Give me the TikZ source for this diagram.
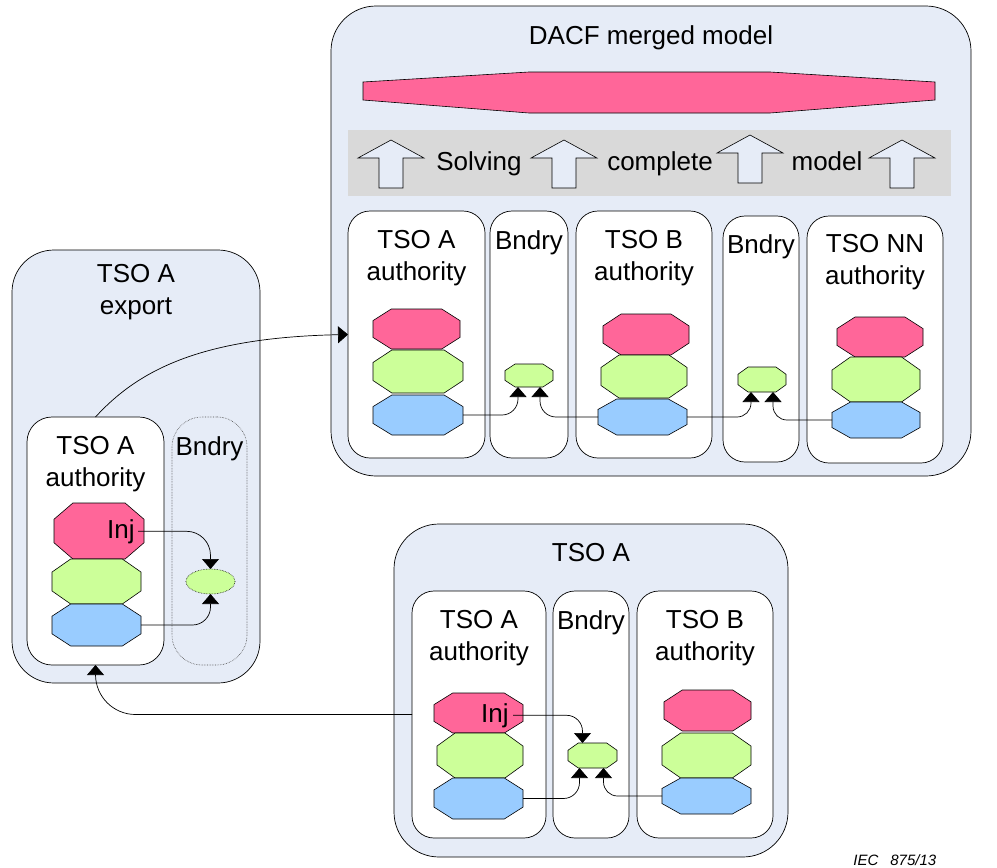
\documentclass[tikz,border=0pt]{standalone}
\usepackage{fontspec}
\setmainfont{Liberation Sans}
\usetikzlibrary{arrows.meta, shapes.geometric}

\definecolor{paneblue}{RGB}{230,236,247}
\definecolor{bandgray}{RGB}{217,217,217}
\definecolor{octpink}{RGB}{255,102,153}
\definecolor{octgreen}{RGB}{204,255,153}
\definecolor{octblue}{RGB}{153,204,255}

% octagon: name, x, y, width, height, colour
\newcommand{\octnode}[6]{%
  \node[inner sep=0pt, outer sep=0pt, minimum width=#4pt, minimum height=#5pt] (#1) at (#2,#3) {};
  \filldraw[fill=#6, line width=0.6pt] (#2-0.29*#4,#3-0.5*#5) -- (#2+0.29*#4,#3-0.5*#5) -- (#2+0.5*#4,#3-0.21*#5) -- (#2+0.5*#4,#3+0.21*#5) -- (#2+0.29*#4,#3+0.5*#5) -- (#2-0.29*#4,#3+0.5*#5) -- (#2-0.5*#4,#3+0.21*#5) -- (#2-0.5*#4,#3-0.21*#5) -- cycle;}

% block arrow pointing up: x, tip y
\newcommand{\blockup}[2]{%
  \filldraw[fill=paneblue, line width=0.6pt] (#1,#2) -- (#1+33,#2+18) -- (#1+12,#2+18) -- (#1+12,#2+48) -- (#1-12,#2+48) -- (#1-12,#2+18) -- (#1-33,#2+18) -- cycle;}

\begin{document}
\begin{tikzpicture}[x=1pt, y=-1pt, line width=0.7pt, line join=miter,
  font=\fontsize{26}{31.5}\selectfont,
  >={Triangle[width=17pt, length=10pt]},
  pane/.style={draw, fill=paneblue, rounded corners=45pt, outer sep=0pt, inner sep=0pt},
  part/.style={draw, fill=white, rounded corners=22pt, outer sep=0pt, inner sep=0pt},
  ttl/.style={anchor=north, inner sep=0pt, yshift=-19pt, align=center}]
	\useasboundingbox (0,0) rectangle (997,868);

	% DACF merged model
	\node[pane, minimum width=640pt, minimum height=470pt] (dacf) at (651,241) {};
	\node[ttl] at (dacf.north) {DACF merged model};
	\filldraw[fill=octpink, line width=0.6pt] (363,82) -- (529,72) -- (770,72) -- (935,82) -- (935,100) -- (770,113) -- (529,113) -- (363,100) -- cycle;
	\fill[bandgray] (348,130) rectangle (951,196);
	\blockup{391}{140}
	\blockup{564}{140}
	\blockup{750}{135}
	\blockup{902}{140}
	\node[anchor=base] at (479,170) {Solving};
	\node[anchor=base] at (660,170) {complete};
	\node[anchor=base] at (827,170) {model};

	\node[part, minimum width=137pt, minimum height=247pt] (dAbox) at (416.5,334.5) {};
	\node[part, minimum width=78pt, minimum height=247pt] (dBnd1) at (529,334.5) {};
	\node[part, minimum width=136pt, minimum height=247pt] (dBbox) at (644,334.5) {};
	\node[part, minimum width=76pt, minimum height=246pt] (dBnd2) at (761,339) {};
	\node[part, minimum width=136pt, minimum height=247pt] (dNNbox) at (875,339.5) {};
	\node[ttl] at (dAbox.north) {TSO A\\authority};
	\node[ttl] at (dBnd1.north) {Bndry};
	\node[ttl] at (dBbox.north) {TSO B\\authority};
	\node[ttl, yshift=1pt] at (dBnd2.north) {Bndry};
	\node[ttl, yshift=1pt] at (dNNbox.north) {TSO NN\\authority};

	\octnode{dAp}{416.5}{329}{87}{40}{octpink}
	\octnode{dAg}{418}{371.5}{90}{43}{octgreen}
	\octnode{dAb}{418}{415}{90}{40}{octblue}
	\octnode{bndA}{529}{375.5}{48}{23}{octgreen}
	\octnode{dBp}{646}{334.5}{86}{41}{octpink}
	\octnode{dBg}{644}{376.5}{86}{43}{octgreen}
	\octnode{dBb}{642.5}{417}{89}{36}{octblue}
	\octnode{bndB}{762}{379.5}{48}{25}{octgreen}
	\octnode{dNp}{880}{337}{86}{40}{octpink}
	\octnode{dNg}{876}{379.5}{88}{45}{octgreen}
	\octnode{dNb}{876}{420}{88}{36}{octblue}
	\draw[->, rounded corners=16pt] (dAb.east) -| ([xshift=-11pt]bndA.south);
	\draw[->, rounded corners=16pt] (dBb.west) -| ([xshift=11pt]bndA.south);
	\draw[->, rounded corners=14pt] (dBb.east) -| ([xshift=-11pt]bndB.south);
	\draw[->, rounded corners=14pt] (dNb.west) -| ([xshift=11pt]bndB.south);

	% TSO A export
	\node[pane, rounded corners=42pt, minimum width=248pt, minimum height=433pt] (expo) at (136,466.5) {};
	\node[anchor=north, inner sep=0pt, align=center, yshift=-14pt] at (expo.north) {TSO A\\export};
	\node[part, rounded corners=25pt, minimum width=137pt, minimum height=248pt] (exAuth) at (95.5,541) {};
	\node[draw=black!70, densely dotted, line width=0.6pt, fill=paneblue, rounded corners=30pt, minimum width=75pt, minimum height=248pt, outer sep=0pt] (exBnd) at (209.5,541) {};
	\node[ttl] at (exAuth.north) {TSO A\\authority};
	\node[ttl] at (exBnd.north) {Bndry};
	\octnode{exp}{99}{531}{90}{56}{octpink}
	\octnode{exg}{96.5}{581.5}{89}{45}{octgreen}
	\octnode{exb}{96.5}{625}{89}{42}{octblue}
	\node[ellipse, draw, densely dotted, line width=0.6pt, fill=octgreen, minimum width=49pt, minimum height=25pt, inner sep=0pt, outer sep=0pt] (exEll) at (210.5,581.5) {};
	\node[anchor=base east, inner xsep=3pt, inner ysep=0pt] (injL) at (138,538) {Inj};
	\draw[->, rounded corners=24pt] (injL.east) -| (exEll.north);
	\draw[->, rounded corners=18pt] (exb.east) -| (exEll.south);

	% TSO A
	\node[pane, minimum width=394pt, minimum height=333pt] (tsoa) at (591,690.5) {};
	\node[ttl] at (tsoa.north) {TSO A};
	\node[part, minimum width=134pt, minimum height=247pt] (loAuth) at (479,714.5) {};
	\node[part, minimum width=76pt, minimum height=247pt] (loBnd) at (591,714.5) {};
	\node[part, minimum width=136pt, minimum height=247pt] (loB) at (705,714.5) {};
	\node[ttl] at (loAuth.north) {TSO A\\authority};
	\node[ttl] at (loBnd.north) {Bndry};
	\node[ttl] at (loB.north) {TSO B\\authority};
	\octnode{lp}{478.5}{713}{89}{40}{octpink}
	\octnode{lg}{480}{755.5}{86}{45}{octgreen}
	\octnode{lb}{478.5}{798.5}{89}{41}{octblue}
	\octnode{lsm}{592.5}{755.5}{49}{25}{octgreen}
	\octnode{lBp}{707.5}{710.5}{87}{41}{octpink}
	\octnode{lBg}{706.5}{755.5}{89}{45}{octgreen}
	\octnode{lBb}{706.5}{796}{89}{36}{octblue}
	\node[anchor=base east, inner xsep=4pt, inner ysep=0pt] (injLo) at (513,722) {Inj};
	\draw[->, rounded corners=16pt] (injLo.east) -| ([xshift=-10pt]lsm.north);
	\draw[->, rounded corners=16pt] (lb.east) -| ([xshift=-13pt]lsm.south);
	\draw[->, rounded corners=14pt] (lBb.west) -| ([xshift=11pt]lsm.south);

	% exchange between the models
	\draw[->] (exAuth.north) .. controls +(43,-47) and +(-147,3) .. (dAbox.west);
	\draw[->, rounded corners=40pt] (loAuth.west) -| (exAuth.south);

	\node[anchor=base west, inner sep=0pt, font=\fontsize{15}{18}\selectfont\itshape] (iec) at (853,865) {IEC\hspace{12pt}875/13};
\end{tikzpicture}
\end{document}
